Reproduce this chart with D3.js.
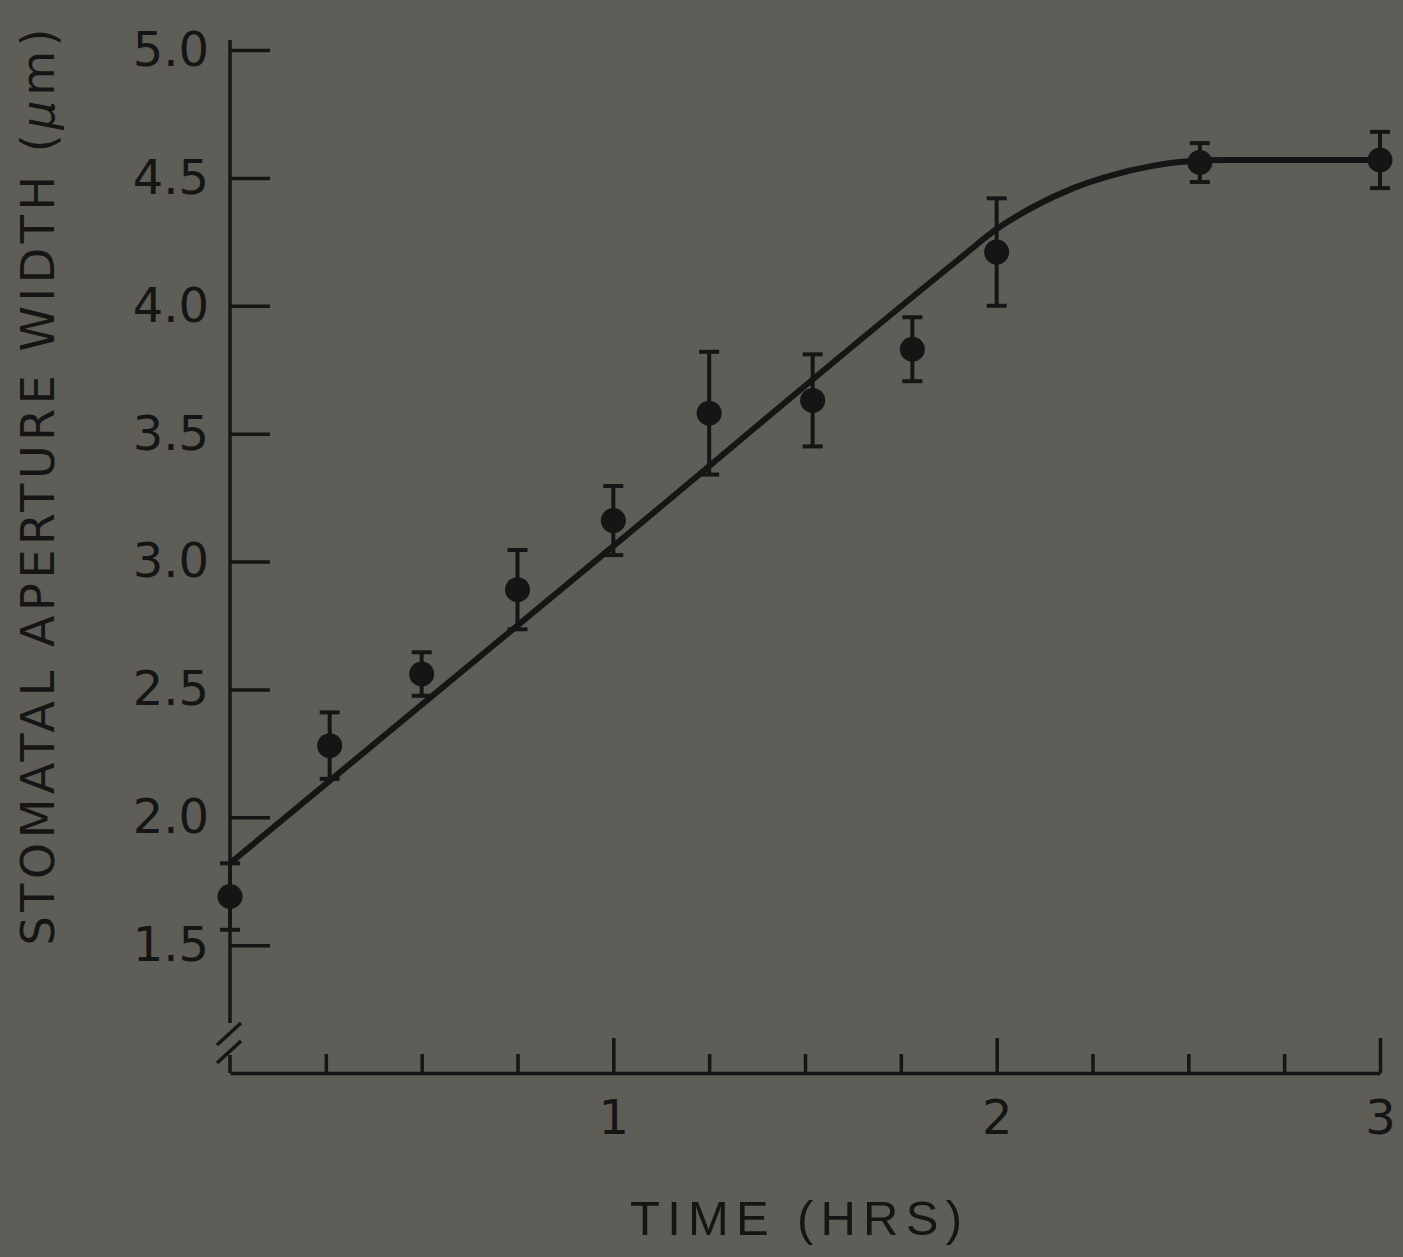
<!DOCTYPE html>
<html>
<head>
<meta charset="utf-8">
<script src="https://cdn.jsdelivr.net/npm/d3@7"></script>
<style>
  body { margin: 0; background: #5e5c56; }
  svg { display: block; }
</style>
</head>
<body>
<svg id="chart"></svg>
<script>
// measured points (time in hours, aperture width in µm, half error bar)
const timeHrs = [0, 0.26, 0.5, 0.75, 1.0, 1.25, 1.52, 1.78, 2.0, 2.53, 3.0];
const apertureMean = [1.69, 2.28, 2.56, 2.89, 3.16, 3.58, 3.63, 3.83, 4.21, 4.56, 4.57];
const apertureErr = [0.13, 0.13, 0.085, 0.155, 0.135, 0.24, 0.18, 0.125, 0.21, 0.076, 0.11];

// fitted curve
const fitTime = [0, 1.0, 1.9, 2.0, 2.1, 2.2, 2.3, 2.4, 2.5, 2.6, 3.0];
const fitWidth = [1.82, 3.06, 4.18, 4.30, 4.39, 4.46, 4.51, 4.545, 4.565, 4.57, 4.57];

const yTicks = [1.5, 2.0, 2.5, 3.0, 3.5, 4.0, 4.5, 5.0];
const xMajorTicks = [1, 2, 3];
const xMinorTicks = [0.25, 0.5, 0.75, 1.25, 1.5, 1.75, 2.25, 2.5, 2.75];

const ink = "#151515";

class ApertureChart {
    margin = {
        top: 50, right: 23, bottom: 184, left: 230
    }

    constructor(svg, width = 1150, height = 1023) {
        this.svg = svg;
        this.width = width;
        this.height = height;
    }

    initialize() {
        this.svg = d3.select(this.svg);
        this.svg
            .attr("width", this.width + this.margin.left + this.margin.right)
            .attr("height", this.height + this.margin.top + this.margin.bottom);

        this.svg.append("rect")
            .attr("width", this.width + this.margin.left + this.margin.right)
            .attr("height", this.height + this.margin.top + this.margin.bottom)
            .attr("fill", "#5f5d57");

        this.container = this.svg.append("g")
            .attr("transform", `translate(${this.margin.left}, ${this.margin.top})`);

        this.xScale = d3.scaleLinear().domain([0, 3]).range([0, this.width]);
        this.yScale = d3.scaleLinear().domain([1, 5]).range([this.height, 0]);
    }

    drawAxes() {
        const h = this.height;

        // x axis: minor ticks
        this.container.append("g")
            .attr("transform", `translate(0, ${h})`)
            .call(d3.axisBottom(this.xScale).tickValues(xMinorTicks).tickSize(-19).tickFormat(""))
            .call(g => g.select(".domain").remove());

        // x axis: major ticks with labels
        const xAxis = this.container.append("g")
            .attr("transform", `translate(0, ${h})`)
            .call(d3.axisBottom(this.xScale)
                .tickValues(xMajorTicks)
                .tickSizeInner(-35)
                .tickSizeOuter(0)
                .tickPadding(27)
                .tickFormat(d3.format("d")));

        // y axis with inward ticks, domain drawn by hand for the break
        const yAxis = this.container.append("g")
            .call(d3.axisLeft(this.yScale)
                .tickValues(yTicks)
                .tickSizeInner(-40)
                .tickSizeOuter(0)
                .tickPadding(21)
                .tickFormat(d3.format(".1f")))
            .call(g => g.select(".domain").remove());

        [xAxis, yAxis].forEach(g => {
            g.attr("font-family", "'DejaVu Sans', sans-serif")
                .attr("font-size", "48px");
            g.selectAll("text").attr("fill", ink);
        });
        this.container.selectAll(".tick line")
            .attr("stroke", ink)
            .attr("stroke-width", 3.5);
        this.container.selectAll(".domain")
            .attr("stroke", ink)
            .attr("stroke-width", 3.5);

        const axisLine = this.container.append("g")
            .attr("stroke", ink)
            .attr("stroke-width", 3.5)
            .attr("fill", "none");

        axisLine.append("line")
            .attr("x1", 0).attr("x2", 0)
            .attr("y1", this.yScale(5) - 10)
            .attr("y2", h - 50);
        axisLine.append("line")
            .attr("x1", 0).attr("x2", 0)
            .attr("y1", h - 18)
            .attr("y2", h);

        // break marks
        [0, 18].forEach(o => {
            axisLine.append("line")
                .attr("x1", -13).attr("y1", h - 28 + o)
                .attr("x2", 11).attr("y2", h - 50 + o);
        });

        // axis titles
        this.svg.append("text")
            .attr("x", 796)
            .attr("y", 1235)
            .attr("text-anchor", "middle")
            .attr("font-family", "'Liberation Sans Narrow', 'Liberation Sans', sans-serif")
            .attr("font-size", "49px")
            .attr("textLength", 332)
            .attr("lengthAdjust", "spacing")
            .attr("fill", ink)
            .text("TIME  (HRS)");

        const yTitle = this.svg.append("text")
            .attr("transform", "translate(54, 487) rotate(-90)")
            .attr("text-anchor", "middle")
            .attr("font-family", "'DejaVu Sans', sans-serif")
            .attr("font-size", "46px")
            .attr("textLength", 917)
            .attr("lengthAdjust", "spacing")
            .attr("fill", ink);
        yTitle.append("tspan").text("STOMATAL APERTURE WIDTH (");
        yTitle.append("tspan").attr("font-style", "italic").text("\u03bc");
        yTitle.append("tspan").text("m)");
    }

    update() {
        const fit = fitTime.map((t, i) => ({ t, w: fitWidth[i] }));
        const points = timeHrs.map((t, i) => ({ t, m: apertureMean[i], e: apertureErr[i] }));

        const line = d3.line()
            .x(d => this.xScale(d.t))
            .y(d => this.yScale(d.w))
            .curve(d3.curveMonotoneX);

        this.container.append("path")
            .datum(fit)
            .attr("d", line)
            .attr("fill", "none")
            .attr("stroke", ink)
            .attr("stroke-width", 6)
            .attr("stroke-linecap", "round");

        const bars = this.container.selectAll(".errbar")
            .data(points)
            .join("g")
            .attr("class", "errbar")
            .attr("stroke", ink)
            .attr("stroke-width", 4);

        bars.append("line")
            .attr("x1", d => this.xScale(d.t))
            .attr("x2", d => this.xScale(d.t))
            .attr("y1", d => this.yScale(d.m - d.e))
            .attr("y2", d => this.yScale(d.m + d.e));

        [-1, 1].forEach(s => {
            bars.append("line")
                .attr("x1", d => this.xScale(d.t) - 10)
                .attr("x2", d => this.xScale(d.t) + 10)
                .attr("y1", d => this.yScale(d.m + s * d.e))
                .attr("y2", d => this.yScale(d.m + s * d.e));
        });

        this.container.selectAll(".point")
            .data(points)
            .join("circle")
            .attr("class", "point")
            .attr("cx", d => this.xScale(d.t))
            .attr("cy", d => this.yScale(d.m))
            .attr("r", 12.5)
            .attr("fill", ink);
    }
}

const chart = new ApertureChart("#chart");
chart.initialize();
chart.drawAxes();
chart.update();
</script>
</body>
</html>
